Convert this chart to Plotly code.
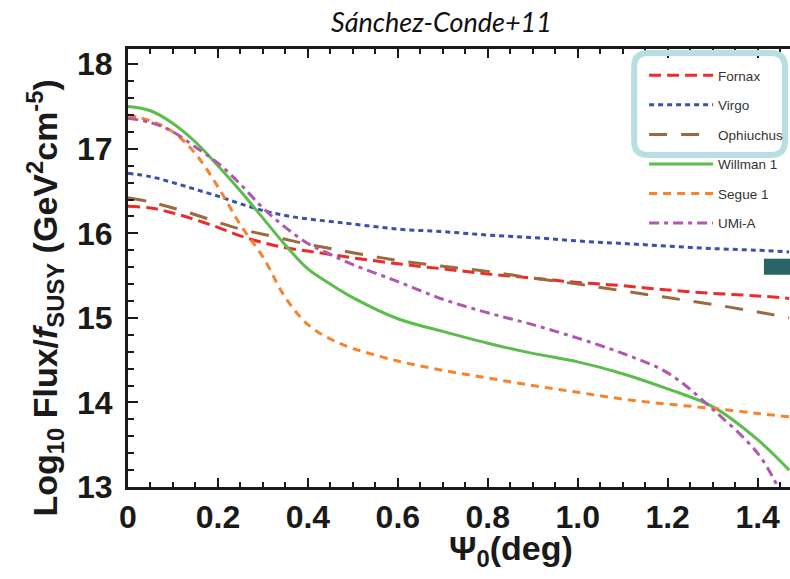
import plotly.graph_objects as go

psi = [0, 0.05, 0.1, 0.15, 0.2, 0.25, 0.3, 0.35, 0.4, 0.45, 0.5, 0.6, 0.7, 0.8, 0.9,
       1.0, 1.1, 1.2, 1.3, 1.4, 1.47]

fornax = [16.32, 16.30, 16.24, 16.16, 16.07, 15.97, 15.89, 15.83, 15.79, 15.75, 15.71, 15.64,
          15.58, 15.52, 15.47, 15.42, 15.38, 15.33, 15.29, 15.26, 15.23]
virgo = [16.71, 16.67, 16.60, 16.52, 16.44, 16.35, 16.27, 16.21, 16.17, 16.14, 16.11, 16.05,
         16.02, 15.98, 15.95, 15.91, 15.88, 15.85, 15.82, 15.80, 15.78]
ophiuchus = [16.42, 16.37, 16.30, 16.22, 16.13, 16.05, 15.99, 15.93, 15.87, 15.82, 15.77, 15.68,
             15.61, 15.55, 15.47, 15.40, 15.32, 15.24, 15.16, 15.07, 15.00]
willman1 = [17.50, 17.45, 17.30, 17.08, 16.80, 16.50, 16.18, 15.86, 15.58, 15.40, 15.24, 14.99,
            14.84, 14.70, 14.58, 14.48, 14.34, 14.16, 13.95, 13.56, 13.20]
segue1 = [17.40, 17.33, 17.20, 16.94, 16.55, 16.10, 15.72, 15.24, 14.92, 14.75, 14.64, 14.49,
          14.38, 14.29, 14.20, 14.12, 14.04, 13.98, 13.93, 13.87, 13.83]
umi_psi = [0, 0.05, 0.1, 0.15, 0.2, 0.25, 0.3, 0.35, 0.4, 0.45, 0.5, 0.6, 0.7, 0.8, 0.9,
           1.0, 1.1, 1.2, 1.3, 1.4, 1.445]
umi_a = [17.36, 17.31, 17.20, 17.02, 16.83, 16.58, 16.30, 16.07, 15.88, 15.75, 15.63, 15.43,
         15.22, 15.06, 14.92, 14.76, 14.58, 14.35, 13.92, 13.40, 13.00]

series = [
    ("Fornax", psi, fornax, "#EE2B2B", "12px,6px"),
    ("Virgo", psi, virgo, "#3A4FAE", "5px,4px"),
    ("Ophiuchus", psi, ophiuchus, "#9B6A3E", "18px,14px"),
    ("Willman 1", psi, willman1, "#5BBD4B", "solid"),
    ("Segue 1", psi, segue1, "#F7842B", "8px,6px"),
    ("UMi-A", umi_psi, umi_a, "#B058AE", "10px,5px,4px,5px"),
]

W, H = 790, 579
L, R, T, B = 127.5, 0, 49, 92
xr = [0, 1.472]
yr = [13, 18.18]

fig = go.Figure()
for i, (name, xs, ys, col, dash) in enumerate(series):
    fig.add_trace(go.Scatter(x=xs, y=ys, mode="lines", name=name,
                             line=dict(color=col, width=3, dash=dash, shape="spline", smoothing=1.0),
                             legendgroup=str(i)))

def px2paper_x(px):
    return (px - L) / (W - L - R)

def px2paper_y(py):
    return (H - B - py) / (H - T - B)

# rounded highlight box around first three legend entries
x0, x1 = px2paper_x(634), px2paper_x(785)
y0, y1 = px2paper_y(155), px2paper_y(53)
rx = 14 / (W - L - R)
ry = 14 / (H - T - B)
path = (f"M {x0+rx},{y1} L {x1-rx},{y1} Q {x1},{y1} {x1},{y1-ry} L {x1},{y0+ry} "
        f"Q {x1},{y0} {x1-rx},{y0} L {x0+rx},{y0} Q {x0},{y0} {x0},{y0+ry} "
        f"L {x0},{y1-ry} Q {x0},{y1} {x0+rx},{y1} Z")
fig.add_shape(type="path", path=path, xref="paper", yref="paper",
              line=dict(color="#B9DEE2", width=6), fillcolor="rgba(0,0,0,0)", layer="above")

fig.add_shape(type="rect", x0=1.414, x1=1.472, y0=15.51, y1=15.70, xref="x", yref="y",
              fillcolor="#2A6467", line=dict(width=0))

tickfont = dict(family="Liberation Sans, Arial", size=32, color="#1a1a1a", weight="bold")

fig.update_layout(
    width=W, height=H,
    margin=dict(l=L, r=R, t=T, b=B),
    paper_bgcolor="white", plot_bgcolor="white",
    showlegend=True,
    legend=dict(x=px2paper_x(644), y=px2paper_y(60), xanchor="left", yanchor="top",
                bgcolor="rgba(0,0,0,0)", font=dict(family="Liberation Sans, Arial", size=13.5,
                                                    color="#333333"),
                tracegroupgap=9, itemwidth=64),
    xaxis=dict(range=xr, showgrid=False, zeroline=False, showline=True, linecolor="#1a1a1a",
               linewidth=3, mirror="ticks", ticks="inside", ticklen=9, tickwidth=2,
               tickcolor="#1a1a1a", tickvals=[0, 0.2, 0.4, 0.6, 0.8, 1.0, 1.2, 1.4],
               ticktext=["0", "0.2", "0.4", "0.6", "0.8", "1.0", "1.2", "1.4"],
               tickfont=tickfont,
               minor=dict(ticks="inside", ticklen=5, tickwidth=2, tickcolor="#1a1a1a", dtick=0.05,
                          tick0=0, showgrid=False)),
    yaxis=dict(range=yr, showgrid=False, zeroline=False, showline=True, linecolor="#1a1a1a",
               linewidth=3, ticks="inside", ticklen=10, tickwidth=2, tickcolor="#1a1a1a",
               tickvals=[13, 14, 15, 16, 17, 18], tickfont=tickfont, ticklabelstandoff=6,
               minor=dict(ticks="inside", ticklen=6, tickwidth=2, tickcolor="#1a1a1a", dtick=0.2,
                          tick0=13, showgrid=False)),
    annotations=[
        dict(text="<b>Log<sub>10</sub> Flux/<i>f</i><sub>SUSY</sub> (GeV<sup>2</sup>cm<sup>-5</sup>)</b>",
             xref="paper", yref="paper", x=px2paper_x(44), y=px2paper_y(298), showarrow=False,
             textangle=-90, xanchor="center", yanchor="middle",
             font=dict(family="Liberation Sans, Arial", size=34, color="#1a1a1a")),
        dict(text="<b>Ψ<sub>0</sub>(deg)</b>", xref="paper", yref="paper",
             x=px2paper_x(511), y=px2paper_y(550), showarrow=False, xanchor="center",
             yanchor="middle", font=dict(family="Liberation Sans, Arial", size=34, color="#1a1a1a")),
        dict(text="<i>Sánchez-Conde+11</i>", xref="paper", yref="paper",
             x=px2paper_x(441), y=px2paper_y(22), showarrow=False, xanchor="center",
             yanchor="middle", font=dict(family="Lato, Open Sans", size=27, color="#111111")),
    ],
)

fig.write_html("out.html")
